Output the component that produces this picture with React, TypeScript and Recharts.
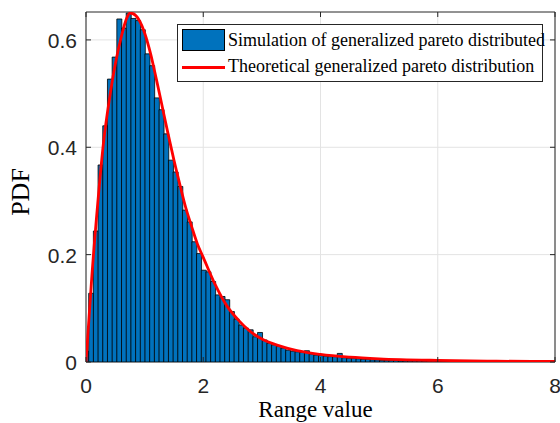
import {
  ComposedChart,
  Bar,
  Line,
  XAxis,
  YAxis,
  CartesianGrid,
  ReferenceArea,
  Legend,
} from 'recharts'

// histogram: 0.08 wide bins, first bin centred just right of 0
const BIN_START = 0.006
const BIN_WIDTH = 0.08

const pdfValues = [
  0.02, 0.128, 0.244, 0.367, 0.44, 0.527, 0.568, 0.639, 0.622, 0.65,
  0.64, 0.636, 0.619, 0.574, 0.552, 0.492, 0.47, 0.425, 0.376, 0.354,
  0.327, 0.283, 0.261, 0.224, 0.202, 0.171, 0.168, 0.15, 0.125, 0.122,
  0.116, 0.094, 0.08, 0.069, 0.063, 0.06, 0.047, 0.055, 0.041, 0.035,
  0.032, 0.029, 0.026, 0.022, 0.02, 0.019, 0.018, 0.021, 0.015, 0.013,
  0.012, 0.011, 0.01, 0.01, 0.016, 0.008, 0.007, 0.007, 0.006, 0.005,
  0.005, 0.004, 0.004, 0.003, 0.003, 0.003, 0.003, 0.002, 0.002, 0.002,
  0.002, 0.002, 0.0015, 0.0015, 0.0015, 0.001, 0.001, 0.001, 0.001, 0.001,
  0.001, 0.0008, 0.0008, 0.0008, 0.0006, 0.0006, 0.0006, 0.0005, 0.0005, 0.0005,
  0.0004, 0.0004, 0.0004, 0.0003, 0.0003, 0.0003, 0.0003, 0.0002, 0.0002, 0.0002,
  0.002,
]

// theoretical curve
const curveX = [
  0, 0.05, 0.1, 0.2, 0.3, 0.4, 0.5, 0.6, 0.7, 0.75, 0.8, 0.9, 1.0, 1.1, 1.2,
  1.3, 1.4, 1.5, 1.6, 1.7, 1.8, 1.9, 2.0, 2.2, 2.4, 2.6, 2.8, 3.0, 3.3, 3.6,
  4.0, 4.5, 5.0, 6.0, 7.0, 8.0,
]
const curveY = [
  0, 0.08, 0.16, 0.295, 0.41, 0.49, 0.555, 0.605, 0.642, 0.65, 0.649, 0.638, 0.613,
  0.575, 0.527, 0.476, 0.425, 0.376, 0.331, 0.288, 0.253, 0.22, 0.195, 0.145, 0.105,
  0.078, 0.057, 0.043, 0.03, 0.021, 0.014, 0.009, 0.006, 0.003, 0.0015, 0.001,
]

const xTicks = [0, 2, 4, 6, 8]
const yTicks = [0, 0.2, 0.4, 0.6]

const bins = pdfValues.map((v, i) => ({
  x: Number((BIN_START + i * BIN_WIDTH).toFixed(3)),
  pdf: v,
}))
const curve = curveX.map((x, i) => ({ x, y: curveY[i] }))

const W = 560
const H = 423
const M = { top: 12, right: 5, bottom: 0, left: 0 }
const Y_AXIS_W = 86
const X_AXIS_H = 61
const PLOT_LEFT = M.left + Y_AXIS_W
const PLOT_RIGHT = W - M.right
const PLOT_TOP = M.top
const PLOT_BOTTOM = H - M.bottom - X_AXIS_H

const AXIS_COLOR = '#262626'
const SANS = '"Liberation Sans", Arial, Helvetica, sans-serif'
const SERIF = '"Liberation Serif", "Times New Roman", serif'
const TICK_LEN = 5

function XTick(props: any) {
  const { x, payload } = props
  return (
    <g>
      <line x1={x} y1={PLOT_BOTTOM} x2={x} y2={PLOT_BOTTOM - TICK_LEN} stroke={AXIS_COLOR} />
      <line x1={x} y1={PLOT_TOP} x2={x} y2={PLOT_TOP + TICK_LEN} stroke={AXIS_COLOR} />
      <text x={x} y={PLOT_BOTTOM + 31} textAnchor="middle" fill={AXIS_COLOR} fontFamily={SANS} fontSize={21}>
        {payload.value}
      </text>
    </g>
  )
}

function YTick(props: any) {
  const { y, payload } = props
  return (
    <g>
      <line x1={PLOT_LEFT} y1={y} x2={PLOT_LEFT + TICK_LEN} y2={y} stroke={AXIS_COLOR} />
      <line x1={PLOT_RIGHT} y1={y} x2={PLOT_RIGHT - TICK_LEN} y2={y} stroke={AXIS_COLOR} />
      <text x={PLOT_LEFT - 9} y={y + 8} textAnchor="end" fill={AXIS_COLOR} fontFamily={SANS} fontSize={21}>
        {payload.value}
      </text>
    </g>
  )
}

function LegendBox() {
  const text = { position: 'absolute' as const, left: 50, fontFamily: SERIF, fontSize: 18, color: '#000', lineHeight: '20px', whiteSpace: 'nowrap' as const }
  return (
    <div
      style={{
        position: 'relative',
        width: 366,
        height: 58,
        boxSizing: 'border-box',
        border: `1px solid ${AXIS_COLOR}`,
        background: '#fff',
      }}
    >
      <div style={{ position: 'absolute', left: 4, top: 4, width: 43, height: 22, boxSizing: 'border-box', background: '#0072BD', border: '1px solid #000' }} />
      <div style={{ ...text, top: 5 }}>Simulation of generalized pareto distributed</div>
      <div style={{ position: 'absolute', left: 4, top: 41, width: 43, height: 3, background: '#ff0000' }} />
      <div style={{ ...text, top: 31 }}>Theoretical generalized pareto distribution</div>
    </div>
  )
}

export default function App() {
  return (
    <div style={{ position: 'absolute', left: 0, top: 0, width: W, height: H, background: '#fff' }}>
      <ComposedChart width={W} height={H} data={bins} margin={M} barCategoryGap={0} barGap={0}>
        <CartesianGrid stroke="#e3e3e3" strokeWidth={1} horizontalValues={yTicks} verticalValues={xTicks} />
        <XAxis
          dataKey="x"
          type="number"
          domain={[0, 8]}
          ticks={xTicks}
          allowDataOverflow
          height={X_AXIS_H}
          axisLine={false}
          tickLine={false}
          tickSize={0}
          tickMargin={0}
          tick={<XTick />}
          label={{
            value: 'Range value',
            position: 'insideBottom',
            offset: 6,
            dx: -5,
            style: { fontFamily: SERIF, fontSize: 23, fill: '#000' },
          }}
        />
        <XAxis xAxisId="curve" dataKey="x" type="number" domain={[0, 8]} allowDataOverflow hide />
        <YAxis
          type="number"
          domain={[0, 0.652]}
          ticks={yTicks}
          allowDataOverflow
          width={Y_AXIS_W}
          axisLine={false}
          tickLine={false}
          tickSize={0}
          tickMargin={0}
          tick={<YTick />}
          label={{
            value: 'PDF',
            angle: -90,
            position: 'insideLeft',
            offset: 20,
            dy: 5,
            style: { textAnchor: 'middle', fontFamily: SERIF, fontSize: 26, fill: '#000' },
          }}
        />
        <Bar
          dataKey="pdf"
          name="Simulation of generalized pareto distributed"
          fill="#0072BD"
          stroke="#000"
          strokeWidth={0.8}
          isAnimationActive={false}
        />
        <Line
          xAxisId="curve"
          data={curve}
          dataKey="y"
          name="Theoretical generalized pareto distribution"
          type="monotone"
          stroke="#ff0000"
          strokeWidth={2.8}
          dot={false}
          activeDot={false}
          isAnimationActive={false}
        />
        <ReferenceArea x1={0} x2={8} y1={0} y2={0.652} fill="none" stroke={AXIS_COLOR} strokeWidth={1} />
        <Legend
          layout="vertical"
          align="center"
          verticalAlign="middle"
          content={<LegendBox />}
          wrapperStyle={{ top: 24, left: 177, width: 366, height: 58 }}
        />
      </ComposedChart>
    </div>
  )
}
